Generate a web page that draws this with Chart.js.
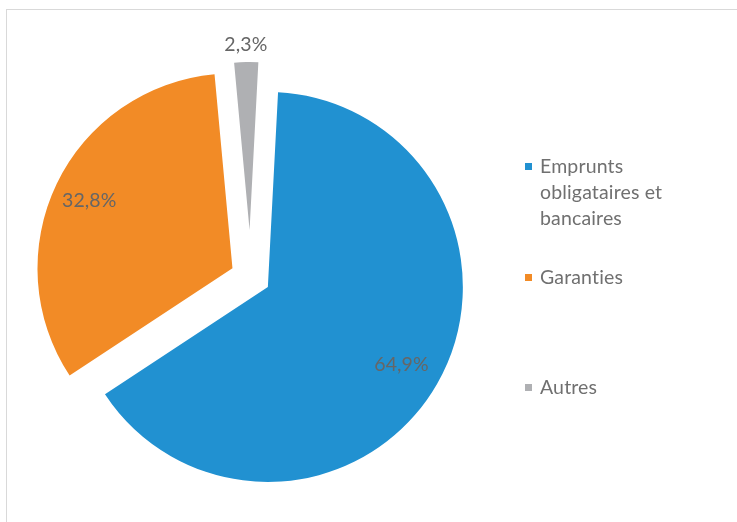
<!DOCTYPE html>
<html>
<head>
<meta charset="utf-8">
<script src="https://cdn.jsdelivr.net/npm/chart.js@4.4.1/dist/chart.umd.min.js"></script>
<style>
  html, body { margin: 0; padding: 0; background: #fff; }
  #frame { position: absolute; left: 6px; top: 9px; width: 780px; height: 560px; border: 1px solid #d9d9d9; }
  #wrap { position: absolute; left: 0; top: 0; width: 737px; height: 522px; }
</style>
</head>
<body>
<div id="frame"></div>
<div id="wrap"><canvas id="chart" width="737" height="522"></canvas></div>
<script>
const labels = ['Emprunts obligataires et bancaires', 'Garanties', 'Autres'];
const shares = [64.9, 32.8, 2.3];
const colors = ['#2191d1', '#f28b26', '#afb0b3'];

// Excel style point explosion (px along the slice mid angle) and slice radius
const explode = [20, 20, 47];
const sliceRadius = [195, 195, 168];
const labelRadius = [0.79, 0.815, 1.11];
const legendBaseline = [173, 284, 394];

const FONT = '19.5px Lato';

function wrap(ctx, text, maxWidth) {
  const words = text.split(' ');
  const lines = [];
  let line = '';
  words.forEach(w => {
    const test = line ? line + ' ' + w : w;
    if (line && ctx.measureText(test).width > maxWidth) {
      lines.push(line);
      line = w;
    } else {
      line = test;
    }
  });
  if (line) lines.push(line);
  return lines;
}

const explodePlugin = {
  id: 'explode',
  afterDatasetUpdate(chart, args) {
    args.meta.data.forEach((arc, i) => {
      const mid = (arc.startAngle + arc.endAngle) / 2;
      arc.x += Math.cos(mid) * explode[i];
      arc.y += Math.sin(mid) * explode[i];
      arc.outerRadius = sliceRadius[i];
    });
  }
};

const labelPlugin = {
  id: 'sliceLabels',
  afterDatasetsDraw(chart) {
    const ctx = chart.ctx;
    const meta = chart.getDatasetMeta(0);
    ctx.save();
    ctx.font = FONT;
    ctx.letterSpacing = '0.1px';
    ctx.fillStyle = '#666666';
    ctx.textAlign = 'center';
    ctx.textBaseline = 'middle';
    meta.data.forEach((arc, i) => {
      const mid = (arc.startAngle + arc.endAngle) / 2;
      const r = arc.outerRadius * labelRadius[i];
      const txt = shares[i].toFixed(1).replace('.', ',') + '%';
      ctx.fillText(txt, arc.x + Math.cos(mid) * r, arc.y + Math.sin(mid) * r + 1);
    });
    ctx.restore();
  }
};

const legendPlugin = {
  id: 'sideLegend',
  afterDraw(chart) {
    const ctx = chart.ctx;
    ctx.save();
    ctx.font = FONT;
    ctx.letterSpacing = '0.15px';  // also keeps Lato from drawing the "ti" ligature
    ctx.textBaseline = 'alphabetic';
    labels.forEach((label, i) => {
      const y = legendBaseline[i];
      ctx.fillStyle = colors[i];
      ctx.fillRect(525, y - 10, 7, 7);
      ctx.fillStyle = '#707070';
      wrap(ctx, label, 150).forEach((ln, j) => ctx.fillText(ln, 540, y + j * 26));
    });
    ctx.restore();
  }
};

new Chart(document.getElementById('chart'), {
  type: 'pie',
  data: {
    labels: labels,
    datasets: [{
      data: shares,
      backgroundColor: colors,
      borderWidth: 0,
      radius: 195
    }]
  },
  options: {
    responsive: false,
    animation: false,
    events: [],
    rotation: 3,
    layout: { padding: { left: 0, right: 236, top: 32, bottom: 0 } },
    plugins: {
      legend: { display: false },
      tooltip: { enabled: false }
    }
  },
  plugins: [explodePlugin, labelPlugin, legendPlugin]
});
</script>
</body>
</html>
